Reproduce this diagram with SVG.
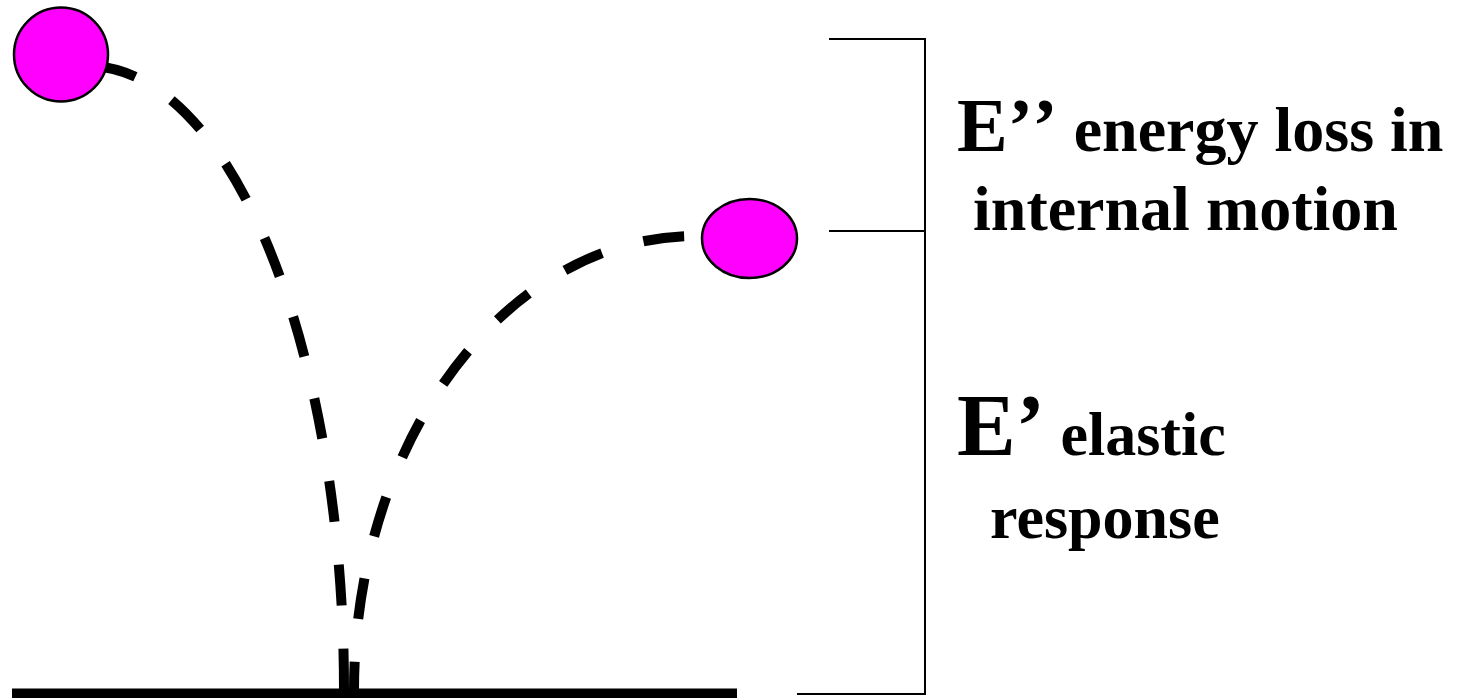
<svg xmlns="http://www.w3.org/2000/svg" width="1467" height="698" viewBox="0 0 1467 698">
<style>
.traj{fill:none;stroke:#000;stroke-width:10;stroke-dasharray:41 43;}
.ball{fill:#FF00FF;stroke:#000;stroke-width:2.5;}
.br{fill:none;stroke:#000;stroke-width:2;}
.lbl{font-family:"Liberation Serif","Times New Roman",serif;font-weight:bold;fill:#000;}
</style>
<rect width="1467" height="698" fill="#fff"/>
<g id="connectors">
<path id="fall" class="traj" d="M88,66 A256,624 0 0 1 344,690" stroke-dashoffset="76"/>
<path id="bounce" class="traj" d="M695,236 A341,454 0 0 0 354,690" stroke-dashoffset="73"/>
</g>
<g id="ground"><line x1="12" y1="694" x2="737" y2="694" stroke="#000" stroke-width="11"/></g>
<g id="ball1"><circle class="ball" cx="61" cy="54.5" r="47"/></g>
<g id="ball2"><ellipse class="ball" cx="749.5" cy="238.5" rx="47.5" ry="39.5"/></g>
<g id="bracket">
<line class="br" x1="829" y1="39" x2="925" y2="39"/>
<line class="br" x1="829" y1="231" x2="925" y2="231"/>
<line class="br" x1="797" y1="694" x2="925" y2="694"/>
<line class="br" x1="925" y1="38" x2="925" y2="695"/>
</g>
<g id="label-loss">
<text class="lbl" x="957" y="151"><tspan font-size="76">E’</tspan><tspan font-size="76" dx="5">’</tspan><tspan font-size="64"> energy loss in</tspan></text>
<text class="lbl" x="973" y="230" font-size="64">internal motion</text>
</g>
<g id="label-elastic">
<text class="lbl" x="957" y="455"><tspan font-size="88">E’</tspan><tspan font-size="62"> elastic</tspan></text>
<text class="lbl" x="990" y="538" font-size="62">response</text>
</g>
</svg>
